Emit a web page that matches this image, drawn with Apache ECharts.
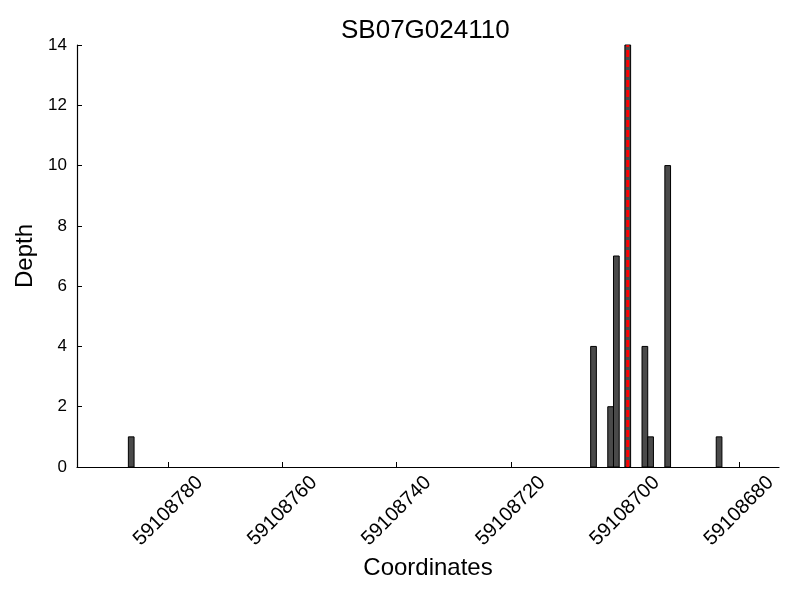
<!DOCTYPE html>
<html>
<head>
<meta charset="utf-8">
<script src="https://cdn.jsdelivr.net/npm/echarts@6/dist/echarts.min.js"></script>
<style>html,body{margin:0;padding:0;background:#fff}#c{width:800px;height:600px}</style>
</head>
<body>
<div id="c"></div>
<script>
// Data
const positions = [59108786, 59108705, 59108702, 59108701, 59108699, 59108696, 59108695, 59108692, 59108683];
const depths    = [1, 4, 2, 7, 14, 4, 1, 10, 1];
const markerPos = [59108699.5];
const xTicks = [59108680, 59108700, 59108720, 59108740, 59108760, 59108780];
const yTicks = [0, 2, 4, 6, 8, 10, 12, 14];
const binWidth = 1;

const FONT = 'Liberation Sans, Arial, sans-serif';
const chart = echarts.init(document.getElementById('c'), null, {renderer: 'canvas'});

const barData = positions.map((p, i) => [p, depths[i]]);
const lineData = [[markerPos[0], yTicks[0]], [markerPos[0], yTicks[yTicks.length - 1]]];

chart.setOption({
  animation: false,
  backgroundColor: '#fff',
  title: {
    text: 'SB07G024110',
    left: 336, top: 13,
    textStyle: {fontFamily: FONT, fontWeight: 'normal', fontSize: 26, color: '#000'}
  },
  grid: {left: 77, right: 21, top: 45, bottom: 133},
  xAxis: {
    type: 'value',
    inverse: true,
    min: 59108673, max: 59108796,
    name: 'Coordinates',
    nameLocation: 'middle',
    nameGap: 89,
    nameTextStyle: {fontFamily: FONT, fontSize: 24, color: '#000'},
    axisLine: {show: true, onZero: false, lineStyle: {color: '#000', width: 1.2}},
    axisTick: {show: true, inside: true, length: 5, customValues: xTicks, lineStyle: {color: '#000'}},
    axisLabel: {
      customValues: xTicks, rotate: 45, fontFamily: FONT, fontSize: 20, color: '#000', margin: 44,
      align: 'center', verticalAlign: 'middle',
      formatter: v => String(v)
    },
    splitLine: {show: false}
  },
  yAxis: {
    type: 'value',
    min: 0, max: 14, interval: 2,
    name: 'Depth',
    nameLocation: 'middle',
    nameGap: 40,
    nameTextStyle: {fontFamily: FONT, fontSize: 24, color: '#000'},
    axisLine: {show: true, lineStyle: {color: '#000', width: 1.2}},
    axisTick: {show: true, inside: true, length: 5, lineStyle: {color: '#000'}},
    axisLabel: {fontFamily: FONT, fontSize: 17, color: '#000', margin: 10},
    splitLine: {show: false}
  },
  series: [
    {
      type: 'custom',
      data: barData,
      renderItem: function (params, api) {
        const x = api.value(0), v = api.value(1);
        const p0 = api.coord([x, 0]);
        const p1 = api.coord([x + binWidth, v]);
        const left = Math.min(p0[0], p1[0]);
        return {
          type: 'rect',
          shape: {x: left, y: p1[1], width: Math.abs(p1[0] - p0[0]), height: p0[1] - p1[1]},
          style: {fill: '#4a4a4a', stroke: '#000', lineWidth: 1}
        };
      },
      z: 2
    },
    {
      type: 'line',
      data: lineData,
      symbol: 'none',
      lineStyle: {color: '#ff0000', width: 3, type: [7, 3]},
      z: 5
    }
  ]
});
</script>
</body>
</html>
